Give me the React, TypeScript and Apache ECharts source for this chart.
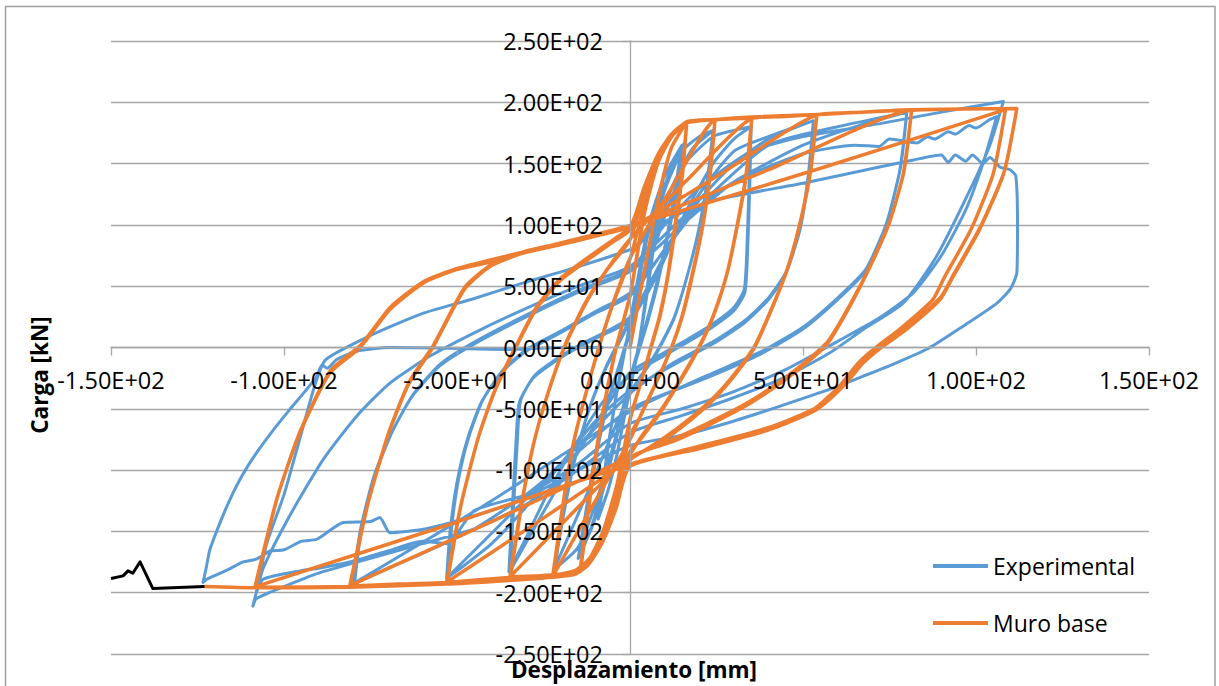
import React, { useEffect, useRef } from "react";
import * as echarts from "echarts";

type P = [number, number];

// ---------------- Muro base (orange) ----------------
const muroStart: P[] = [[0, 0], [3, 45], [6, 90], [9, 132], [12, 163], [16.4, 184]];

const muroCycle16: P[] = [
  [15, 140], [13, 100], [11, 60], [8.5, 25], [6, 0], [3, -30], [0, -58], [-4, -115], [-8, -152], [-12, -174], [-14.5, -183],
  [-12, -130], [-9.5, -80], [-7, -40], [-4, 0], [0, 42], [4, 108], [8, 150], [12, 172], [16.4, 184],
  [15.2, 142], [13.3, 102], [11.2, 62], [8.8, 27], [6.3, 2], [3.2, -28], [0.3, -56], [-3.8, -112], [-7.8, -150], [-11.8, -173], [-14.3, -182],
  [-11.8, -128], [-9.3, -78], [-6.8, -38], [-3.8, 2], [0.2, 45], [4.2, 110], [8.2, 152], [12.2, 173], [16.2, 184],
];

const muroCycle25: P[] = [
  [20, 185.5], [24.6, 186],
  [23, 140], [21, 100], [18, 60], [15, 25], [12, 0], [8, -26], [3, -56], [0, -72], [-4, -120], [-8, -155], [-12, -173], [-16, -182], [-22.3, -186],
  [-19.5, -130], [-16.5, -80], [-13, -40], [-9, 0], [-5, 35], [0, 72], [4, 115], [8, 152], [12, 172], [16, 183], [24.6, 186],
  [23.2, 142], [21.2, 102], [18.3, 62], [15.3, 27], [12.3, 2], [8.3, -24], [3.3, -54], [0.2, -74], [-11, -130], [-22.1, -185.5],
  [-19.3, -128], [-16.3, -78], [-12.8, -38], [-8.8, 2], [-4.8, 37], [0.2, 74], [12, 130], [24.4, 185.5],
];

const muroCycle35: P[] = [
  [30, 186.5], [35.2, 187],
  [33.5, 140], [31, 100], [28, 60], [24, 25], [20, 0], [15, -25], [9, -52], [3, -75], [0, -85], [-4, -125], [-8, -157], [-12, -175], [-16, -183], [-25, -186], [-34.7, -187],
  [-31.5, -130], [-28, -80], [-24, -40], [-19, 0], [-13, 35], [-7, 62], [0, 88], [4, 125], [8, 155], [12, 173], [16, 183], [25, 186], [35.2, 187],
  [33.7, 142], [31.2, 102], [28.2, 62], [24.2, 27], [20.2, 2], [15.2, -23], [9.2, -50], [3.2, -73], [0.2, -86], [-17, -136], [-34.5, -186.5],
  [-31.3, -128], [-27.8, -78], [-23.8, -38], [-18.8, 2], [-12.8, 37], [-6.8, 63], [0.2, 89], [17, 138], [35, 186.5],
];

const muroCycle54: P[] = [
  [45, 188.5], [54, 190],
  [52, 142], [49, 100], [45, 60], [40, 25], [36, 0], [31, -20], [25, -40], [18, -58], [9, -77], [0, -92], [-4, -128], [-8, -158], [-12, -175], [-16, -183], [-25, -186], [-35, -187.5], [-53, -191.6],
  [-49, -130], [-44, -75], [-39, -35], [-33, 0], [-27, 32], [-20, 55], [-12, 72], [-5, 86], [0, 96], [4, 128], [8, 157], [12, 174], [16, 183], [25, 186], [35, 188], [54, 190],
  [52.2, 144], [49.2, 102], [45.2, 62], [40.2, 27], [36.2, 2], [31.2, -18], [25.2, -38], [18.2, -56], [9.2, -75], [0.2, -91], [-26, -141], [-52.8, -191],
  [-48.8, -128], [-43.8, -73], [-38.8, -33], [-32.8, 2], [-26.8, 34], [-19.8, 57], [-11.8, 74], [-4.8, 88], [0.2, 97], [27, 143], [53.8, 189.5],
];

const muroCycle81: P[] = [
  [68, 192], [81.4, 194],
  [79, 142], [75, 102], [69.4, 66], [63.6, 34], [57, 3], [50, -15], [43, -30], [35, -45], [25, -60], [13, -76], [0, -90], [-4, -128], [-8, -158], [-12, -176], [-16, -184], [-25, -187], [-35, -188], [-53, -191.6], [-67, -193], [-81, -194.5],
  [-76, -130], [-70, -72], [-64, -30], [-57, 0], [-48, 47], [-40.5, 66], [-31, 77], [-20, 84], [-10, 91], [0, 99], [4, 130], [8, 157], [12, 174], [16, 183], [25, 186], [35, 188], [54, 190], [68, 192], [81.4, 194],
  [79.2, 144], [75.2, 104], [69.6, 68], [63.8, 36], [57.2, 5], [50.2, -13], [43.2, -28], [35.2, -43], [25.2, -58], [13.2, -74], [0.2, -89], [-40, -142], [-80.8, -194],
  [-75.8, -128], [-69.8, -70], [-63.8, -28], [-56.8, 2], [-47.8, 49], [-40.3, 67], [-30.8, 78], [-19.8, 85], [-9.8, 92], [0.2, 99.5], [40, 145], [81.2, 193.5],
];

const muroCycle112: P[] = [
  [96, 194.5], [111.8, 195],
  [108, 142], [101, 96], [93.4, 58], [89.6, 39], [80, 15], [72.6, 0], [67.4, -12.5], [61.7, -31.5], [54, -50.5], [40.5, -66.8], [19.3, -83], [0, -96], [-4, -130], [-8, -158], [-12, -176], [-16, -184], [-25, -187], [-35, -189], [-53, -192], [-81, -195], [-108.4, -195.5],
  [-102.1, -123.8], [-95.4, -69.5], [-86.7, -20.6], [-78, 0], [-69.4, 31], [-59.7, 52.7], [-50.1, 63.5], [-40, 70], [-30.9, 77], [-20, 84], [-10, 91], [0, 99], [4, 130], [8, 157], [12, 174], [16, 183], [25, 186], [35, 188], [54, 190], [81, 194], [111.8, 195],
  [108.2, 144], [101.2, 98], [93.6, 60], [89.8, 41], [80.2, 17], [72.8, 2], [67.6, -10.5], [61.9, -29.5], [54.2, -48.5], [40.7, -64.8], [19.5, -81], [0.2, -95], [-54, -146], [-108.2, -195],
  [-101.9, -122], [-95.2, -67.5], [-86.5, -18.6], [-77.8, 2], [-69.2, 33], [-59.5, 54], [-49.9, 64.5], [-30.7, 78], [0.2, 99.5], [56, 147], [108.5, 194],
];

const muroFinal: P[] = [
  [105, 142], [98.5, 96], [91, 58], [87.5, 39], [78, 15], [71, 0], [66, -12.5], [60.5, -31.5], [53, -50.5], [40, -66.8], [19, -83], [0, -97], [-4, -131], [-8, -159], [-12, -177], [-16, -185], [-25, -188], [-35, -190], [-53, -193], [-81, -195.5], [-108.4, -196], [-123, -195],
];

const tailValues: P[] = [
  [-123, -195], [-137.9, -196.6], [-141.6, -174.9], [-143.7, -184.1], [-145.1, -182.2], [-146.5, -186.3], [-150, -188.4],
];

// ---------------- Experimental (blue) ----------------
const expStart: P[] = [[0, 0], [1.5, 30], [3, 60], [5, 90], [7, 115], [9, 130]];

const expCycle10: P[] = [
  [7.5, 100], [6, 70], [4.5, 40], [3, 10], [1, -20], [-1.5, -55], [-4, -90], [-6.5, -118], [-9, -138],
  [-7.5, -105], [-6, -75], [-4, -40], [-2, -10], [0, 20], [2.5, 60], [5, 95], [7.5, 120], [9.5, 135],
  [8, 105], [6.5, 75], [5, 45], [3.2, 12], [1.2, -18], [-1.3, -52], [-3.8, -88], [-6.3, -116], [-9.2, -140],
  [-7.7, -108], [-6.2, -78], [-4.2, -42], [-2.2, -12], [0, 18], [3, 65], [6, 105], [10, 140], [15, 165],
];

const expCycle15: P[] = [
  [13, 128], [10.5, 88], [7.5, 50], [4.5, 18], [1, -15], [-3, -60], [-7, -105], [-11, -145], [-15, -172],
  [-13, -138], [-10.5, -95], [-7.5, -55], [-4, -22], [0, 12], [4, 60], [8, 110], [12, 148], [16, 168],
  [14, 132], [11, 92], [8, 52], [5, 20], [1.5, -13], [-2.5, -58], [-6.5, -103], [-10.5, -143], [-14.6, -170],
  [-12.6, -135], [-10, -92], [-7, -52], [-3.5, -18], [0, 15], [5, 72], [10, 128], [15, 160], [20, 172], [24, 177],
];

const expCycle24: P[] = [
  [22.5, 140], [20, 98], [16.5, 58], [12.5, 22], [7, -8], [0, -38], [-5, -82], [-10, -128], [-15, -163], [-22, -181],
  [-19.5, -140], [-16, -92], [-12, -52], [-7, -17], [0, 22], [6, 78], [12, 130], [18, 162], [24, 177],
  [22.6, 142], [20.2, 100], [16.7, 60], [12.7, 24], [7.2, -6], [0.2, -36], [-11, -110], [-21.8, -180],
  [-19.3, -138], [-15.8, -90], [-11.8, -50], [-6.8, -15], [0, 24], [8, 90], [16, 150], [24, 172], [30, 177], [35, 180],
];

const expCycle35: P[] = [
  [34.6, 130], [34, 80], [33.2, 45], [30, 30], [24, 17], [17, 5], [9.6, -7], [0, -23], [-8, -45], [-16, -80], [-24, -120], [-30, -155], [-35, -183],
  [-34, -130], [-33, -80], [-32, -45], [-28, -25], [-22, -12], [-15, 0], [-8, 10], [0, 22], [8, 60], [16, 110], [24, 150], [30, 170], [35, 180],
  [34.4, 132], [33.8, 82], [33, 47], [29.8, 32], [23.8, 19], [16.8, 7], [9.4, -5], [-0.2, -21], [-17, -95], [-34.6, -182],
  [-33.6, -128], [-32.6, -78], [-31.6, -43], [-27.6, -23], [-21.6, -10], [-14.6, 2], [-7.6, 12], [0, 25], [10, 75], [20, 125], [30, 160], [40, 172], [53, 185],
];

const expCycle53: P[] = [
  [51.5, 140], [49, 95], [45, 60], [40, 39], [33, 20], [24, 3], [12, -15], [0, -35], [-10, -60], [-20, -95], [-30, -130], [-40, -160], [-48, -178], [-53, -188],
  [-52, -150], [-50, -110], [-47, -75], [-43, -45], [-37, -20], [-30, -3], [-20, 12], [-10, 28], [0, 42], [10, 80], [20, 120], [30, 150], [40, 170], [53, 185],
  [51.7, 142], [49.2, 97], [45.2, 62], [40.2, 41], [33.2, 22], [24.2, 5], [12.2, -13], [0.2, -37], [-26, -112], [-52.6, -187],
  [-51.6, -148], [-49.6, -108], [-46.6, -73], [-42.6, -43], [-36.6, -18], [-29.6, -1], [-19.6, 14], [-9.6, 30], [0.2, 45], [20, 115], [40, 165], [60, 180], [80, 192],
];

const expCycle80: P[] = [
  [78, 145], [74, 100], [68, 62], [60, 39], [50, 15], [38, -5], [22, -25], [0, -50], [-15, -85], [-30, -120], [-45, -148], [-60, -168], [-70, -180], [-80, -193],
  [-78, -150], [-74, -105], [-69, -70], [-63, -40], [-55, -15], [-45, 3], [-30, 25], [-15, 45], [0, 62], [15, 100], [30, 135], [50, 165], [65, 180], [80, 192],
  [78.2, 147], [74.2, 102], [68.2, 64], [60.2, 41], [50.2, 17], [38.2, -3], [22.2, -23], [0.2, -52], [-40, -125], [-79.6, -192],
  [-77.6, -148], [-73.6, -103], [-68.6, -68], [-62.6, -38], [-54.6, -13], [-44.6, 5], [-29.6, 27], [-14.6, 47], [0.2, 64],
  [10, 100], [20, 130], [35, 160], [50, 172], [73, 183], [90, 192], [107.9, 200.6],
];

const expCycle108: P[] = [
  [104, 165], [98.3, 128.7], [88.6, 74.4], [79, 36.4], [67.4, 14.7], [57.8, -4.3], [43.4, -26], [28.9, -42], [14.5, -56], [0, -69.5],
  [-15, -100], [-30, -128], [-45, -148], [-60, -160], [-75, -172], [-90, -184], [-100, -195], [-108, -205], [-109, -211],
  [-106, -180], [-98.3, -137], [-88.6, -91], [-79, -56], [-69.4, -29], [-57.8, -7], [-45, 12], [-30, 32], [-15, 50], [0, 66],
  [15, 105], [30, 135], [50, 158], [65, 165], [72, 164], [75, 170], [82.9, 166.8], [86, 172], [88, 170], [92, 176], [94, 174], [98, 181], [100, 179], [104, 186], [106, 188.4],
  [102, 150], [97, 112], [90, 75], [82, 45], [72, 24], [60, 5], [45, -18], [30, -36], [15, -50], [0, -62],
  [-15, -95], [-30, -120], [-45, -133], [-53, -160], [-60, -158], [-70, -166], [-81, -175], [-90, -180], [-95, -182], [-106, -189], [-108, -200],
  [-105, -160], [-100, -120], [-95, -70], [-91, -30], [-88, -10], [-75, 9.8], [-59.7, 28], [-45, 40], [-30.8, 52.7], [-15, 66], [1.9, 82],
  [5.8, 95], [15, 110], [25, 120.6], [50, 134], [65, 143], [81.9, 153], [90, 157], [92, 151], [94, 157], [97, 152], [99, 157], [102, 150], [104, 155], [107, 147], [109.8, 145],
];

const expFailure: P[] = [
  [111.5, 140], [112, 100], [111.8, 61], [110, 48], [106, 36], [96.3, 17.4], [86.7, 0], [77, -12.5], [67.4, -23.4], [57.8, -34], [43.4, -47.8], [28.9, -61], [14.5, -72], [0, -80],
  [-15, -100], [-30.8, -123.8], [-45.3, -137.4], [-59.7, -148.3], [-69.4, -151], [-72.3, -138.7], [-75, -142], [-82.9, -142.8], [-90.5, -156.4], [-95, -158], [-100, -165], [-104, -166], [-108, -172.7], [-112, -175], [-116, -181], [-122.3, -189], [-123.4, -191.6],
  [-122.5, -180], [-121.4, -164.6], [-118.5, -143], [-115.6, -123.8], [-112, -104], [-107.9, -85.8], [-103, -67], [-98.3, -50.5], [-94, -36], [-90.5, -23.4], [-89, -14], [-87.5, -17], [-84.8, -9.8], [-79, -3], [-69.4, 0], [-55, -0.5], [-35.6, -1.6], [-20, 0], [-8, 0],
];

const seriesNames = ["Experimental", "Muro base"];
const yTickValues = [-250, -200, -150, -100, -50, 0, 50, 100, 150, 200, 250];
const xTickValues = [-150, -100, -50, 0, 50, 100, 150];

const FONT = '"Open Sans", "Liberation Sans", sans-serif';
const GRID_COLOR = "#a6a6a6";

const W = 1219;
const H = 686;
const GRID = { left: 111, right: 70, top: 41, bottom: 32 };

function sci(v: number): string {
  const s = v.toExponential(2);
  const [m, e] = s.split("e");
  const sign = e[0];
  const digits = e.slice(1).padStart(2, "0");
  return `${m}E${sign}${digits}`;
}

const experimentalData = [
  ...expStart, ...expCycle10, ...expCycle15, ...expCycle24, ...expCycle35, ...expCycle53, ...expCycle80, ...expCycle108, ...expFailure,
];
const muroData = [
  ...muroStart, ...muroCycle16, ...muroCycle25, ...muroCycle35, ...muroCycle54, ...muroCycle81, ...muroCycle112, ...muroFinal,
];

export default function App() {
  const ref = useRef<HTMLDivElement>(null);
  useEffect(() => {
    document.body.style.margin = "0";
    const chart = echarts.init(ref.current!, null, { renderer: "svg" });
    const labelStyle = { fontFamily: FONT, fontSize: 23.5, color: "#000" };
    const xMin = xTickValues[0];
    const xMax = xTickValues[xTickValues.length - 1];
    const yMin = yTickValues[0];
    const yMax = yTickValues[yTickValues.length - 1];
    const plotW = W - GRID.left - GRID.right;
    const plotH = H - GRID.top - GRID.bottom;
    // move the axes (line, ticks, labels) to the zero crossing
    const yAxisOffset = -plotW * ((0 - xMin) / (xMax - xMin));
    const xAxisOffset = -plotH * ((0 - yMin) / (yMax - yMin));
    chart.setOption({
      animation: false,
      backgroundColor: "#fff",
      grid: { ...GRID, containLabel: false, outerBoundsMode: "none" },
      xAxis: [
        {
          type: "value",
          min: xMin,
          max: xMax,
          interval: 50,
          position: "bottom",
          offset: xAxisOffset,
          axisLine: { show: true, onZero: false, lineStyle: { color: GRID_COLOR, width: 1.3 } },
          axisTick: { show: true, length: 8, lineStyle: { color: GRID_COLOR, width: 1.3 } },
          axisLabel: { show: true, margin: 20, formatter: (v: number) => sci(v), ...labelStyle },
          splitLine: { show: false },
          z: 5,
        },
      ],
      yAxis: [
        {
          type: "value",
          min: yMin,
          max: yMax,
          interval: 50,
          position: "left",
          offset: yAxisOffset,
          axisLine: { show: true, onZero: false, lineStyle: { color: GRID_COLOR, width: 1.3 } },
          axisTick: { show: true, length: 7, lineStyle: { color: GRID_COLOR, width: 1.3 } },
          axisLabel: { show: true, margin: 27, formatter: (v: number) => sci(v), ...labelStyle },
          splitLine: { show: false },
          z: 5,
        },
        {
          type: "value",
          min: yMin,
          max: yMax,
          interval: 50,
          position: "left",
          axisLine: { show: false, onZero: false },
          axisTick: { show: false },
          axisLabel: { show: false },
          splitLine: { show: true, lineStyle: { color: GRID_COLOR, width: 1.3 } },
          z: 0,
        },
      ],
      legend: {
        data: seriesNames,
        orient: "vertical",
        left: 933,
        top: 553,
        padding: 0,
        itemWidth: 55,
        itemHeight: 4,
        itemGap: 31,
        icon: "rect",
        textStyle: { fontFamily: FONT, fontSize: 23, color: "#000", lineHeight: 26 },
      },
      graphic: [
        {
          type: "rect",
          shape: { x: 5.5, y: 6.5, width: 1209.5, height: 700 },
          style: { fill: "none", stroke: "#a0a0a0", lineWidth: 1.5 },
          silent: true,
        },
        {
          type: "text",
          x: 39,
          y: 375,
          rotation: Math.PI / 2,
          style: {
            text: "Carga [kN]",
            font: `bold 22.5px ${FONT}`,
            fill: "#000",
            textAlign: "center",
            textVerticalAlign: "middle",
          },
        },
        {
          type: "text",
          x: 634,
          y: 669,
          style: {
            text: "Desplazamiento [mm]",
            font: `bold 22.5px ${FONT}`,
            fill: "#000",
            textAlign: "center",
            textVerticalAlign: "middle",
          },
        },
      ],
      series: [
        {
          name: seriesNames[0],
          type: "line",
          data: experimentalData,
          showSymbol: false,
          symbol: "none",
          smooth: 0.2,
          color: "#5B9BD5",
          lineStyle: { color: "#5B9BD5", width: 3, cap: "round", join: "round" },
          z: 2,
        },
        {
          name: seriesNames[1],
          type: "line",
          data: muroData,
          showSymbol: false,
          symbol: "none",
          smooth: 0.2,
          color: "#ED7D31",
          lineStyle: { color: "#ED7D31", width: 3.5, cap: "round", join: "round" },
          z: 3,
        },
        {
          name: "Tramo final",
          type: "line",
          data: tailValues,
          showSymbol: false,
          symbol: "none",
          color: "#000",
          lineStyle: { color: "#000", width: 3, join: "round" },
          z: 3,
        },
      ],
    });
    return () => chart.dispose();
  }, []);
  return (
    <div
      ref={ref}
      style={{ position: "fixed", left: 0, top: 0, width: W, height: H, background: "#fff" }}
    />
  );
}
